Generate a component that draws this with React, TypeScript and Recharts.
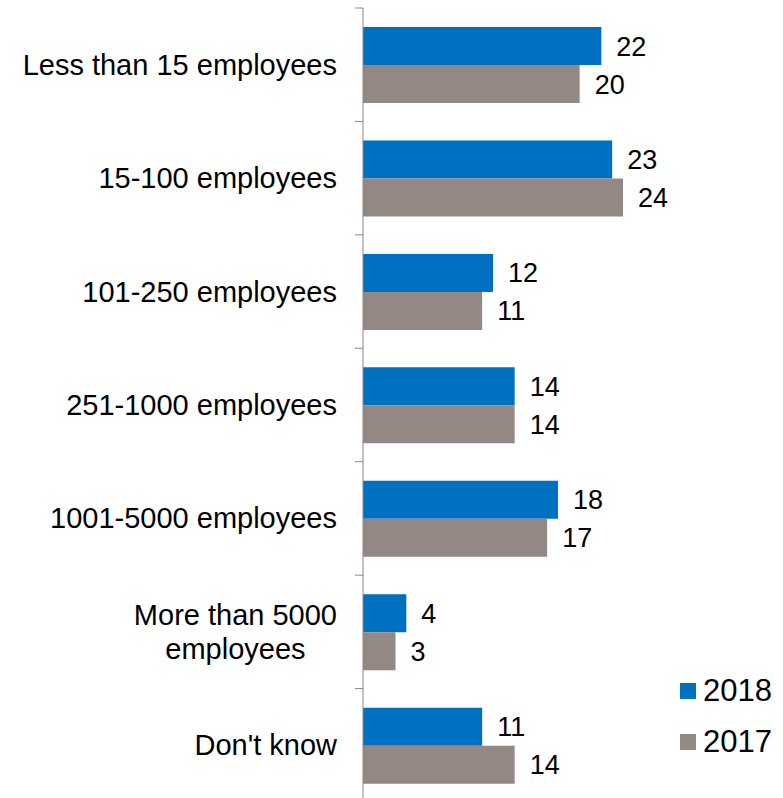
import React from "react";
import { BarChart, Bar, XAxis, YAxis, LabelList } from "recharts";

const categories = [
  "Less than 15 employees",
  "15-100 employees",
  "101-250 employees",
  "251-1000 employees",
  "1001-5000 employees",
  "More than 5000\nemployees",
  "Don't know",
];
const values2018 = [22, 23, 12, 14, 18, 4, 11];
const values2017 = [20, 24, 11, 14, 17, 3, 14];
const seriesNames = ["2018", "2017"];
const seriesColors = ["#0070C0", "#938883"];

const data = categories.map((c, i) => ({
  category: c,
  y2018: values2018[i],
  y2017: values2017[i],
}));

const FONT = '"Liberation Sans", Arial, sans-serif';
const CHART_W = 783;
const CHART_H = 810;
const MARGIN = { top: 8, right: 95, bottom: 8, left: 0 };
const PLOT_H = CHART_H - MARGIN.top - MARGIN.bottom;
const BAND = PLOT_H / categories.length;
const TICK_SIZE = 8;
const TICK_MARGIN = 18;
const CAT_FONT = 29;
const LABEL_FONT = 27;

let measureCtx: CanvasRenderingContext2D | null = null;
function textWidth(t: string, size: number) {
  if (!measureCtx) {
    const c = document.createElement("canvas");
    measureCtx = c.getContext("2d");
  }
  if (!measureCtx) return t.length * size * 0.5;
  measureCtx.font = `${size}px "Liberation Sans"`;
  return measureCtx.measureText(t).width;
}

const CategoryTick = (props: any) => {
  const { x, y, payload } = props;
  const lines = String(payload.value).split("\n");
  const axisX = x + TICK_MARGIN + TICK_SIZE;
  const boundaryY = y - BAND / 2;
  const lineH = 34;
  let textEl;
  if (lines.length === 1) {
    textEl = (
      <text x={x} y={y} textAnchor="end" dominantBaseline="central" fontSize={CAT_FONT} fontFamily={FONT} fill="#000">
        {lines[0]}
      </text>
    );
  } else {
    const maxW = Math.max(...lines.map((l) => textWidth(l, CAT_FONT)));
    const cx = x - maxW / 2;
    const startY = y - ((lines.length - 1) * lineH) / 2;
    textEl = (
      <text textAnchor="middle" fontSize={CAT_FONT} fontFamily={FONT} fill="#000">
        {lines.map((l, i) => (
          <tspan key={i} x={cx} y={startY + i * lineH} dominantBaseline="central">
            {l}
          </tspan>
        ))}
      </text>
    );
  }
  return (
    <g>
      <line x1={axisX - TICK_SIZE} x2={axisX} y1={boundaryY} y2={boundaryY} stroke="#888" strokeWidth={1} />
      {props.index === categories.length - 1 && (
        <line x1={axisX - TICK_SIZE} x2={axisX} y1={y + BAND / 2} y2={y + BAND / 2} stroke="#888" strokeWidth={1} />
      )}
      {textEl}
    </g>
  );
};

const LegendBox = () => (
  <div style={{ position: "absolute", left: 680, top: 665, fontFamily: FONT }}>
    {seriesNames.map((n, i) => (
      <div key={n} style={{ display: "flex", alignItems: "center", height: 51 }}>
        <div style={{ width: 16, height: 16, background: seriesColors[i], marginRight: 7 }} />
        <span style={{ fontSize: 31, color: "#000", lineHeight: "31px" }}>{n}</span>
      </div>
    ))}
  </div>
);

export default function App() {
  return (
    <div style={{ position: "absolute", left: 0, top: 0, width: 783, height: 798, overflow: "hidden", background: "#fff" }}>
      <BarChart
        width={CHART_W}
        height={CHART_H}
        data={data}
        layout="vertical"
        margin={MARGIN}
        barCategoryGap="16.8%"
        barGap={0}
      >
        <XAxis type="number" domain={[0, 30]} hide />
        <YAxis
          type="category"
          dataKey="category"
          width={363}
          axisLine={{ stroke: "#888", strokeWidth: 1 }}
          tickLine={false}
          tickSize={TICK_SIZE}
          tickMargin={TICK_MARGIN}
          tick={<CategoryTick />}
          interval={0}
        />
        <Bar dataKey="y2018" name={seriesNames[0]} fill={seriesColors[0]} isAnimationActive={false}>
          <LabelList dataKey="y2018" position="right" offset={15} fontSize={LABEL_FONT} fontFamily={FONT} fill="#000" />
        </Bar>
        <Bar dataKey="y2017" name={seriesNames[1]} fill={seriesColors[1]} isAnimationActive={false}>
          <LabelList dataKey="y2017" position="right" offset={15} fontSize={LABEL_FONT} fontFamily={FONT} fill="#000" />
        </Bar>
      </BarChart>
      <LegendBox />
    </div>
  );
}
